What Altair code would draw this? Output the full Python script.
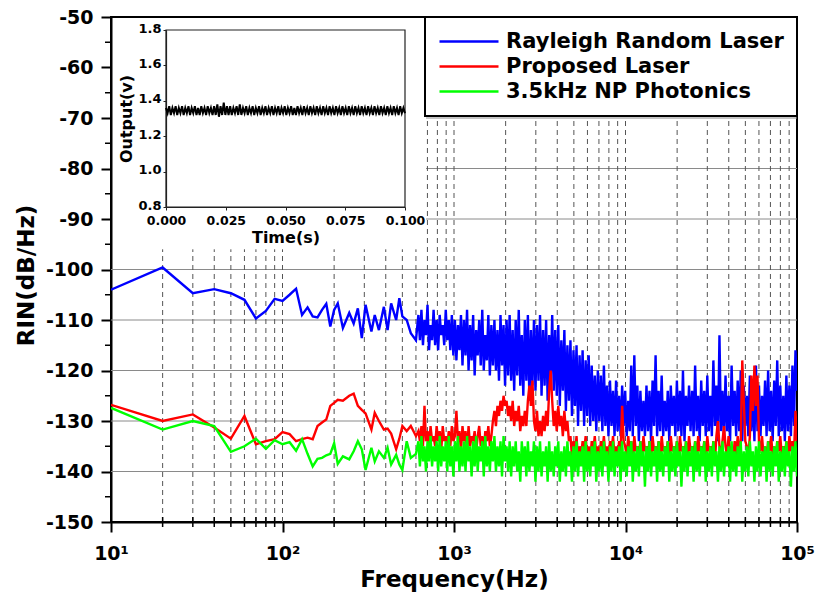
import altair as alt
import numpy as np
import pandas as pd

# ---------------- data ----------------
SERIES = ["Rayleigh Random Laser", "Proposed Laser", "3.5kHz NP Photonics"]
COLORS = ["#0000ff", "#ff0000", "#00ff00"]

FREQ_LOW = [10, 20, 30, 40, 50, 60, 70, 80, 90, 100, 110, 120, 130, 140, 150, 160, 170, 180, 190, 200,
            210, 225, 245, 260, 275, 290, 305, 330, 345, 365, 390, 410, 430, 460, 480, 500, 530, 560, 600]
BLUE_LOW = [-104.0, -99.6, -104.7, -103.9, -104.7, -106.0, -109.7, -108.2, -105.8, -106.2, -105.0, -103.8,
            -109.0, -107.5, -109.3, -109.5, -108.0, -106.8, -111.3, -108.0, -106.7, -111.6, -108.6, -110.7,
            -107.7, -113.6, -107.0, -112.3, -109.0, -112.0, -107.4, -112.0, -106.7, -110.0, -105.7, -109.3,
            -110.0, -112.6, -114.0]
RED_LOW = [-126.8, -130.0, -128.7, -131.3, -133.5, -129.0, -134.6, -134.0, -133.6, -132.2, -132.6, -134.0,
           -133.6, -133.3, -133.6, -131.0, -130.3, -129.7, -127.0, -126.4, -125.8, -126.0, -125.0, -124.6,
           -127.0, -127.8, -128.5, -131.7, -128.4, -130.0, -131.7, -131.5, -132.5, -135.6, -133.5, -131.0,
           -132.0, -131.0, -133.0]
GREEN_LOW = [-127.4, -131.7, -130.0, -131.0, -136.1, -135.0, -133.5, -135.5, -133.8, -134.6, -134.2, -135.9,
             -133.6, -136.5, -139.0, -137.5, -137.3, -136.8, -136.5, -134.4, -138.5, -137.0, -137.6, -136.0,
             -134.0, -135.6, -139.7, -135.3, -138.0, -136.0, -137.3, -135.3, -138.6, -136.7, -138.6, -139.7,
             -134.0, -137.3, -136.5]

# dense part of the spectra, 620 Hz .. 100 kHz on a log-spaced sampling grid
N_HIGH = 250
FREQ_HIGH = list(np.geomspace(620, 100000, N_HIGH))
BLUE_HIGH = [
    -109, -114, -108, -115, -110, -113, -107, -116, -111, -114,
    -108, -115, -110, -116, -109, -113, -111, -115, -108, -114,
    -110, -116, -109, -117, -110, -118, -111, -116, -109, -119,
    -110, -117, -108, -120, -111, -118, -109, -121, -112, -117,
    -110, -119, -108, -120, -113, -118, -109, -121, -111, -119,
    -110, -120, -112, -122, -109, -119, -111, -123, -110, -121,
    -109, -122, -112, -124, -110, -121, -108, -123, -113, -125,
    -110, -122, -109, -126, -112, -123, -110, -124, -111, -122,
    -109, -125, -112, -123, -110, -126, -113, -122, -109, -124,
    -112, -125, -111, -127, -114, -124, -112, -128, -115, -126,
    -114, -129, -116, -127, -115, -131, -117, -128, -116, -131,
    -118, -129, -117, -131, -119, -130, -121, -132, -120, -130,
    -121, -132, -119, -131, -123, -133, -122, -131, -124, -133,
    -122, -132, -125, -133, -123, -131, -124, -133, -126, -132,
    -119, -133, -117, -131, -123, -134, -124, -132, -126, -133,
    -123, -132, -124, -134, -122, -131, -117, -133, -124, -132,
    -121, -133, -126, -132, -124, -134, -123, -131, -125, -133,
    -122, -132, -124, -133, -120, -134, -125, -131, -123, -132,
    -124, -133, -119, -132, -125, -134, -122, -131, -124, -133,
    -121, -132, -125, -133, -118, -131, -123, -134, -113, -132,
    -124, -133, -121, -132, -125, -134, -119, -131, -124, -133,
    -122, -132, -120, -134, -123, -131, -125, -133, -121, -132,
    -124, -134, -119, -132, -123, -133, -125, -131, -122, -133,
    -120, -132, -124, -134, -122, -131, -118, -133, -123, -132,
    -125, -134, -121, -132, -123, -133, -119, -131, -116, -124,
]
RED_HIGH = [
    -132, -134, -131, -135, -127, -134, -132, -135, -131, -134,
    -133, -135, -131, -134, -132, -136, -131, -134, -133, -135,
    -132, -135, -131, -134, -133, -128, -134, -132, -136, -131,
    -134, -132, -136, -131, -135, -133, -134, -132, -136, -133,
    -131, -135, -133, -136, -132, -134, -131, -135, -133, -130,
    -128, -131, -127, -129, -126, -128, -125, -127, -126, -129,
    -127, -130, -126, -131, -128, -130, -127, -132, -129, -131,
    -128, -131, -126, -123, -127, -122, -130, -132, -128, -133,
    -130, -133, -129, -132, -128, -131, -124, -120, -126, -131,
    -128, -132, -127, -131, -129, -133, -128, -132, -130, -134,
    -133, -137, -134, -136, -133, -138, -135, -137, -134, -136,
    -133, -137, -135, -138, -134, -136, -133, -137, -135, -138,
    -134, -136, -133, -137, -135, -138, -134, -136, -133, -137,
    -135, -138, -134, -136, -127, -134, -135, -137, -133, -136,
    -134, -138, -133, -136, -135, -137, -134, -138, -133, -136,
    -135, -137, -134, -138, -133, -136, -135, -137, -134, -138,
    -133, -136, -135, -137, -134, -138, -133, -136, -135, -137,
    -134, -138, -133, -136, -135, -137, -134, -138, -133, -136,
    -135, -137, -134, -138, -133, -136, -135, -137, -134, -138,
    -133, -136, -135, -137, -134, -138, -133, -130, -135, -137,
    -134, -131, -135, -137, -133, -136, -135, -138, -134, -137,
    -133, -136, -134, -118, -126, -134, -135, -137, -133, -121,
    -128, -119, -127, -121, -134, -136, -133, -137, -135, -138,
    -134, -136, -133, -137, -135, -138, -134, -136, -133, -137,
    -135, -137, -134, -138, -133, -136, -134, -137, -128, -134,
]
GREEN_HIGH = [
    -134, -139, -133, -138, -135, -140, -134, -138, -133, -139,
    -135, -138, -134, -140, -133, -139, -135, -138, -134, -140,
    -133, -139, -135, -141, -134, -138, -133, -140, -135, -139,
    -134, -140, -133, -138, -135, -141, -134, -139, -133, -140,
    -135, -138, -134, -141, -133, -139, -135, -140, -134, -138,
    -133, -140, -135, -139, -134, -141, -133, -138, -135, -140,
    -134, -141, -135, -139, -134, -140, -136, -142, -134, -139,
    -135, -141, -134, -140, -136, -139, -134, -142, -135, -140,
    -134, -141, -136, -139, -135, -142, -134, -140, -136, -141,
    -135, -139, -134, -142, -136, -140, -135, -141, -134, -139,
    -136, -142, -135, -140, -134, -141, -136, -139, -135, -142,
    -134, -140, -136, -141, -135, -139, -134, -142, -136, -140,
    -135, -141, -134, -139, -136, -142, -135, -140, -134, -141,
    -136, -139, -135, -142, -134, -140, -136, -141, -135, -139,
    -134, -142, -136, -140, -135, -141, -134, -139, -136, -143,
    -135, -140, -134, -141, -136, -139, -135, -142, -134, -140,
    -136, -141, -135, -139, -134, -142, -136, -140, -135, -141,
    -134, -139, -136, -143, -135, -140, -134, -141, -136, -139,
    -135, -142, -134, -140, -136, -141, -135, -139, -134, -142,
    -136, -140, -135, -141, -134, -139, -136, -142, -135, -140,
    -134, -141, -136, -139, -135, -142, -134, -140, -136, -141,
    -135, -139, -134, -142, -136, -140, -135, -141, -134, -139,
    -136, -142, -135, -140, -134, -141, -136, -139, -135, -142,
    -134, -140, -136, -141, -135, -139, -134, -142, -136, -140,
    -135, -141, -134, -139, -136, -143, -135, -140, -134, -141,
]

# inset: output voltage vs time
INSET_V = [
    1.36, 1.33, 1.37, 1.32, 1.36, 1.33, 1.37, 1.32, 1.36, 1.33,
    1.37, 1.32, 1.36, 1.33, 1.37, 1.32, 1.36, 1.33, 1.37, 1.32,
    1.36, 1.32, 1.37, 1.33, 1.36, 1.32, 1.37, 1.33, 1.36, 1.32,
    1.37, 1.32, 1.38, 1.31, 1.37, 1.32, 1.39, 1.32, 1.37, 1.32,
    1.37, 1.32, 1.36, 1.33, 1.37, 1.32, 1.38, 1.32, 1.36, 1.33,
    1.37, 1.32, 1.36, 1.33, 1.37, 1.32, 1.36, 1.33, 1.37, 1.32,
    1.36, 1.33, 1.37, 1.32, 1.36, 1.33, 1.37, 1.32, 1.36, 1.33,
    1.37, 1.32, 1.36, 1.33, 1.37, 1.32, 1.36, 1.33, 1.37, 1.32,
    1.36, 1.32, 1.37, 1.33, 1.36, 1.32, 1.37, 1.33, 1.36, 1.32,
    1.37, 1.33, 1.36, 1.32, 1.37, 1.33, 1.36, 1.32, 1.37, 1.33,
    1.36, 1.32, 1.37, 1.33, 1.36, 1.32, 1.37, 1.33, 1.36, 1.32,
    1.37, 1.33, 1.36, 1.32, 1.37, 1.33, 1.36, 1.32, 1.37, 1.33,
    1.36, 1.32, 1.37, 1.33, 1.36, 1.32, 1.37, 1.33, 1.36, 1.32,
    1.37, 1.33, 1.36, 1.32, 1.37, 1.33, 1.36, 1.32, 1.37, 1.33,
    1.36, 1.32, 1.37, 1.33, 1.36, 1.32, 1.37, 1.33, 1.36, 1.33,
]
INSET_T = list(np.linspace(0, 0.1, len(INSET_V)))

# axes / ticks
Y_TICKS = list(range(-150, -40, 10))
Y_MINOR = list(range(-145, -50, 10))
X_DECADES = [10, 100, 1000, 10000, 100000]
X_TICK_LABELS = ["10\u00b9", "10\u00b2", "10\u00b3", "10\u2074", "10\u2075"]
MINOR_MULTS = [2, 3, 4, 5, 6, 7, 8, 9]
GRID_FULL = [-140, -130, -120, -110, -100]
GRID_RIGHT = [-90, -80, -70]
INSET_EDGE_F = 650        # frequency just right of the inset box
INSET_T_TICKS = [0, 0.025, 0.05, 0.075, 0.1]
INSET_V_TICKS = [0.8, 1.0, 1.2, 1.4, 1.6, 1.8]

FONT = "DejaVu Sans"

# ---------------- tables ----------------
freqs = FREQ_LOW + FREQ_HIGH
spec = pd.DataFrame({
    "f": freqs * 3,
    "v": BLUE_LOW + BLUE_HIGH + RED_LOW + RED_HIGH + GREEN_LOW + GREEN_HIGH,
    "series": [SERIES[0]] * len(freqs) + [SERIES[1]] * len(freqs) + [SERIES[2]] * len(freqs),
})

minor_f = [m * d for d in X_DECADES[:-1] for m in MINOR_MULTS]
vgrid_f = minor_f + X_DECADES[1:-1]
vgrid = pd.DataFrame({
    "f": vgrid_f,
    "vb": [-150] * len(vgrid_f),
    "vt": [(-96 if f < INSET_EDGE_F else -70) for f in vgrid_f],
})
hgrid = pd.DataFrame({
    "v": GRID_FULL + GRID_RIGHT,
    "fs": [X_DECADES[0]] * len(GRID_FULL) + [INSET_EDGE_F + 37] * len(GRID_RIGHT),
    "fe": [X_DECADES[-1]] * (len(GRID_FULL) + len(GRID_RIGHT)),
})
xminor = pd.DataFrame({"f": minor_f})
yminor = pd.DataFrame({"v": Y_MINOR})
inset = pd.DataFrame({"t": INSET_T, "u": INSET_V})
inset_box = pd.DataFrame({"t0": [INSET_T_TICKS[0]], "t1": [INSET_T_TICKS[-1]],
                          "u0": [INSET_V_TICKS[0]], "u1": [INSET_V_TICKS[-1]]})

# ---------------- main scales / axes ----------------
label_expr = " : ".join(
    f"datum.value == {d} ? '{lab}'" for d, lab in zip(X_DECADES, X_TICK_LABELS)
) + " : ''"

xs = alt.Scale(type="log", domain=[10, 100000], nice=False)
ys = alt.Scale(domain=[-150, -50], nice=False, zero=False)
x_axis = alt.Axis(orient="bottom", values=X_DECADES, labelExpr=label_expr, grid=False,
                  tickSize=10, tickWidth=2, tickColor="black", domainColor="black", domainWidth=2,
                  labelFont=FONT, labelFontSize=19, labelFontWeight="bold", labelColor="black",
                  labelPadding=12, labelFlush=False, labelOverlap=False,
                  title="Frequency(Hz)", titleFont=FONT, titleFontSize=23, titleFontWeight="bold",
                  titleColor="black", titleY=64, titleBaseline="alphabetic")
y_axis = alt.Axis(orient="left", values=Y_TICKS, labelExpr="'' + datum.value", grid=False,
                  tickSize=10, tickWidth=2, tickColor="black", domainColor="black", domainWidth=2,
                  labelFont=FONT, labelFontSize=19, labelFontWeight="bold", labelColor="black",
                  labelPadding=8, labelFlush=False, labelOverlap=False,
                  title="RIN(dB/Hz)", titleFont=FONT, titleFontSize=23, titleFontWeight="bold",
                  titleColor="black", titleX=-85, titleY=258, titleAngle=270,
                  titleBaseline="middle", titleAlign="center")


def X(field):
    return alt.X(f"{field}:Q", scale=xs, axis=x_axis)


def Y(field):
    return alt.Y(f"{field}:Q", scale=ys, axis=y_axis)


legend = alt.Legend(title=None, orient="top-right", offset=0, padding=13,
                    fillColor="white", strokeColor="black",
                    symbolType="stroke", symbolSize=3481, symbolStrokeWidth=2.5,
                    labelFont=FONT, labelFontSize=21, labelFontWeight="bold", labelColor="black",
                    labelOffset=6, rowPadding=2, clipHeight=23, labelLimit=400)
color = alt.Color("series:N", scale=alt.Scale(domain=SERIES, range=COLORS), legend=legend)

hgrid_layer = alt.Chart(hgrid).mark_rule(color="#8a8a8a", strokeWidth=1).encode(
    x=X("fs"), x2="fe", y=Y("v"))
vgrid_layer = alt.Chart(vgrid).mark_rule(color="#555555", strokeWidth=1, strokeDash=[5, 4]).encode(
    x=X("f"), y=Y("vb"), y2="vt")
xminor_layer = alt.Chart(xminor).mark_rule(color="black", strokeWidth=1.5).encode(
    x=X("f"), y=alt.value(500), y2=alt.value(510))
yminor_layer = alt.Chart(yminor).mark_rule(color="black", strokeWidth=1.5).encode(
    y=Y("v"), x=alt.value(-6), x2=alt.value(0))

line_layers = [
    alt.Chart(spec).transform_filter(alt.datum.series == s)
    .mark_line(strokeWidth=2.4, clip=True)
    .encode(x=X("f"), y=Y("v"), color=color)
    for s in SERIES
]

main = alt.layer(hgrid_layer, vgrid_layer, *line_layers, xminor_layer, yminor_layer)

# ---------------- inset ----------------
ixs = alt.Scale(domain=[INSET_T_TICKS[0], INSET_T_TICKS[-1]], range=[55, 294], nice=False, zero=False)
iys = alt.Scale(domain=[INSET_V_TICKS[0], INSET_V_TICKS[-1]], range=[190, 13], nice=False, zero=False)
ix_axis = alt.Axis(orient="bottom", offset=-315, values=INSET_T_TICKS, format=".3f", grid=False,
                   tickSize=3, tickColor="#222222", domainColor="#222222", domainWidth=1.2,
                   labelFont=FONT, labelFontSize=12.5, labelFontWeight="bold", labelColor="black",
                   labelPadding=4, labelFlush=False, labelOverlap=False,
                   title="Time(s)", titleFont=FONT, titleFontSize=16, titleFontWeight="bold",
                   titleColor="black", titlePadding=3)
iy_axis = alt.Axis(orient="left", offset=-55, values=INSET_V_TICKS, format=".1f", grid=False,
                   tickSize=3, tickColor="#222222", domainColor="#222222", domainWidth=1.2,
                   labelFont=FONT, labelFontSize=13, labelFontWeight="bold", labelColor="black",
                   labelPadding=2, labelOffset=-2, labelFlush=False, labelOverlap=False,
                   title="Output(v)", titleFont=FONT, titleFontSize=16, titleFontWeight="bold",
                   titleColor="black", titlePadding=3)

inset_frame = alt.Chart(inset_box).mark_rect(fillOpacity=0, stroke="#222222", strokeWidth=1.2).encode(
    x=alt.X("t0:Q", scale=ixs, axis=ix_axis), x2="t1",
    y=alt.Y("u0:Q", scale=iys, axis=iy_axis), y2="u1")
inset_line = alt.Chart(inset).mark_line(color="black", strokeWidth=2).encode(
    x=alt.X("t:Q", scale=ixs, axis=ix_axis),
    y=alt.Y("u:Q", scale=iys, axis=iy_axis))
inset_layer = alt.layer(inset_frame, inset_line)

chart = (
    alt.layer(main, inset_layer)
    .resolve_scale(x="independent", y="independent")
    .properties(width=686, height=505,
                padding={"left": 111, "top": 17, "right": 20, "bottom": 75},
                autosize=alt.AutoSizeParams(type="none"),
                background="white")
    .configure(font=FONT)
    .configure_view(stroke="black", strokeWidth=2)
    .configure_legend(strokeWidth=2)
)

chart.save("out.html", embed_options={"renderer": "svg", "actions": False})
